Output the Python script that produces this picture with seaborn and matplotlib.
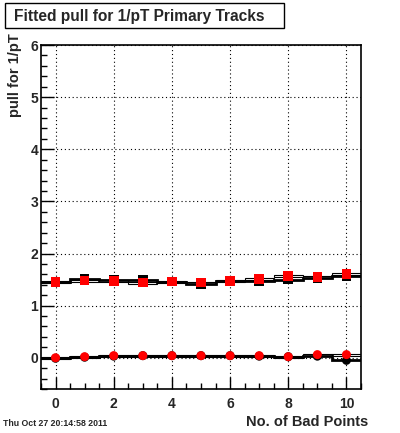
import numpy as np
import pandas as pd
import matplotlib
matplotlib.use('Agg')
import matplotlib.pyplot as plt
import seaborn as sns
from matplotlib.ticker import MultipleLocator

# Bad points (bin centres)
bad_points = list(range(11))

# Upper series (squares)
red_upper = [1.45, 1.48, 1.47, 1.44, 1.46, 1.44, 1.47, 1.51, 1.57, 1.55, 1.61]
black_upper = [1.46, 1.51, 1.49, 1.49, 1.46, 1.42, 1.47, 1.47, 1.50, 1.53, 1.56]

# Lower series (circles)
red_lower = [0.00, 0.02, 0.04, 0.04, 0.04, 0.04, 0.04, 0.04, 0.02, 0.06, 0.06]
black_lower = [-0.01, 0.01, 0.03, 0.04, 0.04, 0.04, 0.04, 0.03, 0.02, 0.03, -0.05]

df = pd.DataFrame({
    'bad': bad_points,
    'red_upper': red_upper, 'black_upper': black_upper,
    'red_lower': red_lower, 'black_lower': black_lower,
})

sns.set_style('white')
plt.rcParams['font.family'] = ['Liberation Sans', 'DejaVu Sans']

fig = plt.figure(figsize=(4.0, 4.33), dpi=100)
ax = fig.add_axes([0.1025, 0.1016, 0.8, 0.7944])

edges = np.arange(-0.5, 11.0, 1.0)

# black histograms (thick step lines)
ax.stairs(df['black_upper'], edges, baseline=None, color='black', lw=2, zorder=2)
ax.stairs(df['black_lower'], edges, baseline=None, color='black', lw=2, zorder=2)

# red histograms drawn as thin hollow boxes
for col in ['red_upper', 'red_lower']:
    ax.bar(df['bad'], 0.04, bottom=df[col] - 0.02, width=1.0,
           fill=False, edgecolor='black', lw=0.8, zorder=2)

# markers
sns.scatterplot(data=df, x='bad', y='black_upper', marker='s', s=48,
                color='black', edgecolor='none', ax=ax, zorder=3)
sns.scatterplot(data=df, x='bad', y='black_lower', marker='o', s=42,
                color='black', edgecolor='none', ax=ax, zorder=3)
sns.scatterplot(data=df, x='bad', y='red_upper', marker='s', s=48,
                color='red', edgecolor='none', ax=ax, zorder=4)
sns.scatterplot(data=df, x='bad', y='red_lower', marker='o', s=42,
                color='red', edgecolor='none', ax=ax, zorder=4)

ax.set_xlim(-0.5, 10.5)
ax.set_ylim(-0.6, 6)

ax.xaxis.set_major_locator(MultipleLocator(2))
ax.xaxis.set_minor_locator(MultipleLocator(0.5))
ax.yaxis.set_major_locator(MultipleLocator(1))
ax.yaxis.set_minor_locator(MultipleLocator(0.2))
ax.tick_params(which='both', direction='in', top=False, right=False,
               bottom=True, left=True, color='black', width=1)
ax.tick_params(which='major', length=9, labelsize=10)
ax.tick_params(which='minor', length=4.5)
ax.tick_params(axis='x', which='major', pad=6)
ax.tick_params(axis='y', which='major', pad=2)
for lab in ax.get_xticklabels() + ax.get_yticklabels():
    lab.set_fontweight('bold')

ax.grid(True, which='major', linestyle=(0, (1, 2.5)), color='black', lw=0.8)
for s in ax.spines.values():
    s.set_color('black')
    s.set_linewidth(1.2)

ax.set_xlabel('')
ax.set_ylabel('')
fig.text(368 / 400, 1 - 422 / 433, 'No. of Bad Points', ha='right', va='center',
         fontsize=10.5, fontweight='bold')
fig.text(15 / 400, 1 - 33 / 433, 'pull for 1/pT', ha='center', va='top',
         rotation=90, fontsize=10.5, fontweight='bold')
fig.text(3 / 400, 1 - 424 / 433, 'Thu Oct 27 20:14:58 2011', ha='left',
         va='center', fontsize=6.3, fontweight='bold')

# title box
fig.text(14 / 400, 1 - 16 / 433, 'Fitted pull for 1/pT Primary Tracks',
         ha='left', va='center', fontsize=11.2, fontweight='bold')
fig.patches.append(plt.Rectangle((5 / 400, 1 - 28 / 433), 279 / 400, 25 / 433,
                                 transform=fig.transFigure, fill=False,
                                 edgecolor='black', lw=1))

fig.savefig('out.png', dpi=100, facecolor='white')
